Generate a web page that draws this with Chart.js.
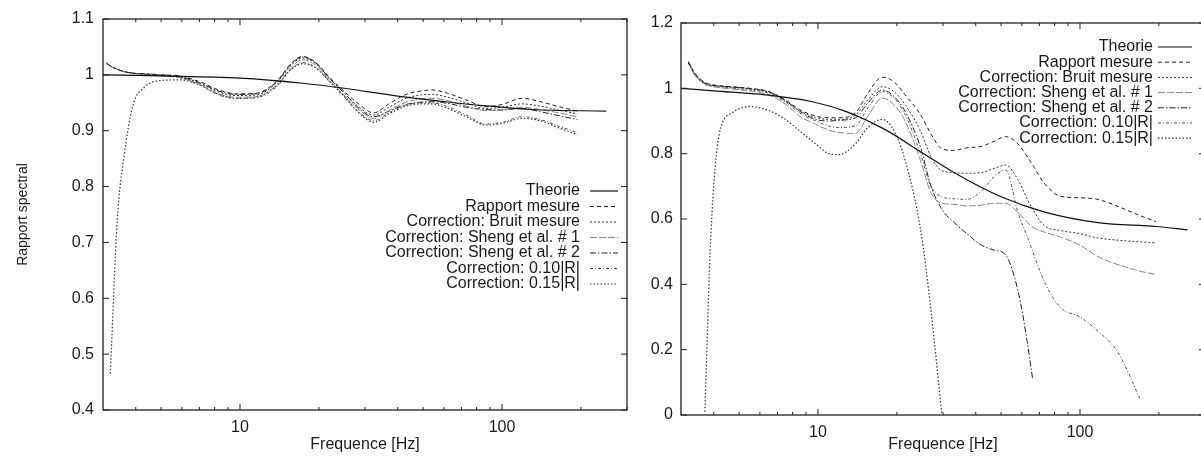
<!DOCTYPE html>
<html><head><meta charset="utf-8">
<script src="https://cdn.jsdelivr.net/npm/chart.js@4.4.1/dist/chart.umd.min.js"></script>
<style>
html,body{margin:0;padding:0;background:#fff;overflow:hidden;width:1201px;height:458px;position:relative;}
#wl{position:absolute;left:0;top:0;width:640px;height:458px;}
#wr{position:absolute;left:600px;top:0;width:620px;height:458px;}
canvas{display:block;}
</style></head><body>
<div id="wl"><canvas id="cl" width="640" height="458"></canvas></div>
<div id="wr"><canvas id="cr" width="620" height="458"></canvas></div>
<script>
// ---------- DATA ----------
const SERIES_NAMES = ['Theorie','Rapport mesure','Correction: Bruit mesure','Correction: Sheng et al. # 1','Correction: Sheng et al. # 2','Correction: 0.10|R|','Correction: 0.15|R|'];
const X_TICKS = [10, 100];
const L_Y_TICKS = [0.4, 0.5, 0.6, 0.7, 0.8, 0.9, 1.0, 1.1];
const R_Y_TICKS = [0, 0.2, 0.4, 0.6, 0.8, 1.0, 1.2];

// Left panel
const LT_FREQ = [3, 5, 10, 17.3, 25, 40, 63, 90, 130, 250];
const LT_VAL  = [1.000, 0.998, 0.994, 0.985, 0.976, 0.962, 0.951, 0.944, 0.938, 0.935];
const L_FREQ = [3.1,3.2,3.4,3.6,3.9,4.3,5,5.9,7,8.3,9.7,11.5,13.9,15.5,17.3,19.5,22,24.7,28,32.4,37,43,49,54,62,73,87,100,119,140,165,194];
const L_RAPPORT = [1.021,1.016,1.010,1.006,1.003,1.002,1.000,0.998,0.988,0.973,0.966,0.967,0.990,1.018,1.033,1.022,0.995,0.973,0.950,0.932,0.948,0.965,0.971,0.973,0.967,0.955,0.943,0.947,0.958,0.952,0.943,0.935];
const L_BRUIT   = [1.021,1.016,1.010,1.006,1.003,1.001,0.999,0.996,0.985,0.969,0.963,0.964,0.987,1.015,1.030,1.020,0.993,0.970,0.945,0.928,0.942,0.958,0.964,0.965,0.960,0.950,0.940,0.942,0.948,0.944,0.937,0.930];
const L_SHENG1  = [1.021,1.016,1.010,1.006,1.003,1.001,0.998,0.995,0.983,0.966,0.960,0.961,0.983,1.011,1.027,1.017,0.990,0.966,0.940,0.922,0.936,0.951,0.957,0.958,0.954,0.944,0.936,0.937,0.942,0.938,0.932,0.925];
const L_SHENG2  = [1.021,1.016,1.010,1.006,1.003,1.002,1.000,0.997,0.986,0.971,0.965,0.966,0.989,1.017,1.032,1.021,0.993,0.970,0.943,0.925,0.935,0.947,0.951,0.952,0.949,0.942,0.938,0.937,0.940,0.934,0.927,0.920];
const L_R10     = [1.021,1.016,1.010,1.006,1.003,1.001,0.999,0.995,0.982,0.964,0.958,0.959,0.980,1.008,1.022,1.013,0.987,0.963,0.936,0.918,0.932,0.946,0.950,0.950,0.943,0.928,0.912,0.915,0.925,0.920,0.908,0.897];
const L_R15     = [null,0.465,0.740,0.850,0.945,0.977,0.990,0.991,0.982,0.965,0.958,0.960,0.982,1.008,1.020,1.012,0.988,0.964,0.935,0.915,0.930,0.944,0.948,0.948,0.940,0.925,0.910,0.913,0.922,0.918,0.905,0.893];

// Right panel
const RT_FREQ = [3, 4, 6.3, 9.5, 12.9, 18.2, 24.6, 33.4, 50, 72.8, 117, 195, 257];
const RT_VAL  = [1.000, 0.992, 0.980, 0.959, 0.928, 0.872, 0.806, 0.740, 0.668, 0.622, 0.589, 0.577, 0.567];
const R_FREQ = [3.2,3.4,3.7,3.9,4.2,4.7,5.5,6.5,7.5,8.5,9.8,11,12,13.9,15.5,17.6,19.5,21.5,24.6,27,29.7,33,37,42,47,52,58,63,66,73,84,100,117,140,170,195];
const R_RAPPORT = [1.082,1.045,1.018,1.012,1.008,1.005,1.000,0.990,0.965,0.935,0.915,0.910,0.910,0.925,0.985,1.034,1.020,0.980,0.920,0.860,0.815,0.810,0.818,0.822,0.838,0.852,0.830,0.790,0.765,0.710,0.670,0.665,0.660,0.638,0.610,0.592];
const R_BRUIT   = [1.080,1.043,1.016,1.010,1.006,1.003,0.998,0.988,0.962,0.932,0.910,0.905,0.905,0.918,0.965,1.005,0.990,0.950,0.870,0.790,0.748,0.742,0.740,0.742,0.755,0.765,0.720,0.660,0.630,0.580,0.565,0.555,0.542,0.535,0.530,0.527];
const R_SHENG1  = [1.076,1.038,1.012,1.006,1.002,0.998,0.992,0.980,0.952,0.915,0.890,0.872,0.865,0.862,0.915,0.970,0.950,0.900,0.780,0.680,0.648,0.645,0.640,0.642,0.648,0.648,0.620,0.590,0.575,0.560,0.545,0.520,0.485,0.460,0.440,0.430];
const R_SHENG2  = [1.080,1.043,1.016,1.010,1.007,1.004,0.999,0.989,0.963,0.930,0.905,0.900,0.902,0.910,0.955,0.995,0.975,0.930,0.820,0.700,0.630,0.590,0.555,0.520,0.505,0.490,0.380,0.220,0.108,null,null,null,null,null,null,null];
const R_R10     = [1.078,1.040,1.014,1.008,1.004,1.000,0.995,0.985,0.958,0.925,0.900,0.885,0.880,0.885,0.940,0.990,0.970,0.920,0.800,0.700,0.668,0.662,0.660,0.685,0.730,0.750,0.620,0.545,0.500,0.410,0.330,0.300,0.257,0.190,0.047,null];
const R_R15     = [null,null,0.010,0.550,0.860,0.925,0.944,0.932,0.905,0.870,0.830,0.800,0.797,0.830,0.880,0.905,0.870,0.780,0.570,0.320,0.000,null,null,null,null,null,null,null,null,null,null,null,null,null,null,null];

// ---------- STYLE ----------
const STYLES = [
  {dash: [],            color: '#111', w: 1.2},
  {dash: [4, 3],        color: '#222', w: 1},
  {dash: [2, 2],        color: '#333', w: 1},
  {dash: [7, 2],        color: '#888', w: 1},
  {dash: [6, 2, 1.5, 2],color: '#222', w: 1},
  {dash: [3, 2, 1, 2],  color: '#555', w: 1},
  {dash: [1.5, 2],      color: '#333', w: 1.2}
];
const X_MINOR = [4,5,6,7,8,9,20,30,40,50,60,70,80,90,200,300];

Chart.defaults.font.family = '"Liberation Sans", Arial, sans-serif';
Chart.defaults.font.size = 16;
Chart.defaults.color = '#1a1a1a';

function pts(freq, vals){
  const out = [];
  freq.forEach((f,i)=>{ if (vals[i] !== null && vals[i] !== undefined) out.push({x:f, y:vals[i]}); });
  return out;
}
function makeDatasets(list){
  return list.map((d,i)=>({
    label: SERIES_NAMES[i], data: d,
    borderColor: STYLES[i].color, borderWidth: STYLES[i].w, borderDash: STYLES[i].dash,
    pointRadius: 0, fill: false, cubicInterpolationMode: 'monotone'
  }));
}

const framePlugin = {
  id: 'frame',
  afterDatasetsDraw(chart, args, opts){
    const {ctx, chartArea: a} = chart;
    const x = chart.scales.x, y = chart.scales.y;
    const line = (x1,y1,x2,y2)=>{ ctx.beginPath(); ctx.moveTo(x1,y1); ctx.lineTo(x2,y2); ctx.stroke(); };
    ctx.save();
    ctx.setLineDash([]);
    ctx.strokeStyle = '#222';
    ctx.lineWidth = 1.3;
    ctx.strokeRect(a.left, a.top, a.right - a.left, a.bottom - a.top);
    ctx.lineWidth = 1;
    X_MINOR.forEach(v => { const px = x.getPixelForValue(v); line(px, a.bottom, px, a.bottom - 3); line(px, a.top, px, a.top + 3); });
    x.ticks.forEach(t => { const px = x.getPixelForValue(t.value); line(px, a.bottom, px, a.bottom - 6); line(px, a.top, px, a.top + 6); });
    y.ticks.forEach(t => { const py = y.getPixelForValue(t.value); line(a.left, py, a.left + 6, py); line(a.right, py, a.right - 6, py); });
    // key
    ctx.font = '16px "Liberation Sans", Arial, sans-serif';
    ctx.textAlign = 'right';
    ctx.textBaseline = 'middle';
    ctx.fillStyle = '#1a1a1a';
    chart.data.datasets.forEach((ds, i) => {
      const yy = a.top + opts.top + i * opts.gap;
      ctx.fillText(ds.label, a.right - opts.textRight, yy);
      ctx.strokeStyle = ds.borderColor; ctx.lineWidth = ds.borderWidth;
      ctx.setLineDash(ds.borderDash || []);
      line(a.right - opts.s0, yy, a.right - opts.s1, yy);
      ctx.setLineDash([]);
    });
    ctx.restore();
  }
};

function makeChart(id, datasets, cfg){
  return new Chart(document.getElementById(id), {
    type: 'line',
    data: { datasets },
    plugins: [framePlugin],
    options: {
      responsive: false, animation: false, devicePixelRatio: 1,
      layout: { padding: cfg.padding },
      plugins: { legend: {display: false}, tooltip: {enabled: false}, frame: cfg.key },
      scales: {
        x: {
          type: 'logarithmic', min: 3, max: 300,
          afterBuildTicks: s => { s.ticks = X_TICKS.map(v => ({value: v})); },
          ticks: { callback: v => String(v), padding: 8, maxRotation: 0, autoSkip: false },
          grid: { display: false, drawTicks: false }, border: { display: false },
          title: { display: true, text: 'Frequence [Hz]', font: {size: 16}, padding: {top: 4, bottom: 4} },
          afterFit: s => { s.height = cfg.xh; }
        },
        y: {
          min: cfg.ymin, max: cfg.ymax,
          afterBuildTicks: s => { s.ticks = cfg.yticks.map(v => ({value: v})); },
          ticks: { callback: v => String(+(+v).toFixed(2)), padding: cfg.ypad },
          grid: { display: false, drawTicks: false }, border: { display: false },
          title: cfg.ytitle,
          afterFit: s => { s.width = cfg.yw; }
        }
      }
    }
  });
}

makeChart('cl', makeDatasets([
  pts(LT_FREQ, LT_VAL), pts(L_FREQ, L_RAPPORT), pts(L_FREQ, L_BRUIT), pts(L_FREQ, L_SHENG1),
  pts(L_FREQ, L_SHENG2), pts(L_FREQ, L_R10), pts(L_FREQ, L_R15)
]), {
  padding: {top: 19, right: 13, left: 0, bottom: 0},
  xh: 48, yw: 103, ypad: 9, ymin: 0.4, ymax: 1.1, yticks: L_Y_TICKS,
  ytitle: { display: true, text: 'Rapport spectral', font: {size: 14}, padding: {top: 15, bottom: 0} },
  key: { top: 172, gap: 15.5, textRight: 47, s0: 37, s1: 9 }
});

makeChart('cr', makeDatasets([
  pts(RT_FREQ, RT_VAL), pts(R_FREQ, R_RAPPORT), pts(R_FREQ, R_BRUIT), pts(R_FREQ, R_SHENG1),
  pts(R_FREQ, R_SHENG2), pts(R_FREQ, R_R10), pts(R_FREQ, R_R15)
]), {
  padding: {top: 23, right: 15, left: 0, bottom: 0},
  xh: 43, yw: 81, ypad: 8, ymin: 0, ymax: 1.2, yticks: R_Y_TICKS,
  ytitle: { display: false },
  key: { top: 24, gap: 15.2, textRight: 52, s0: 47, s1: 13 }
});
</script></body></html>
